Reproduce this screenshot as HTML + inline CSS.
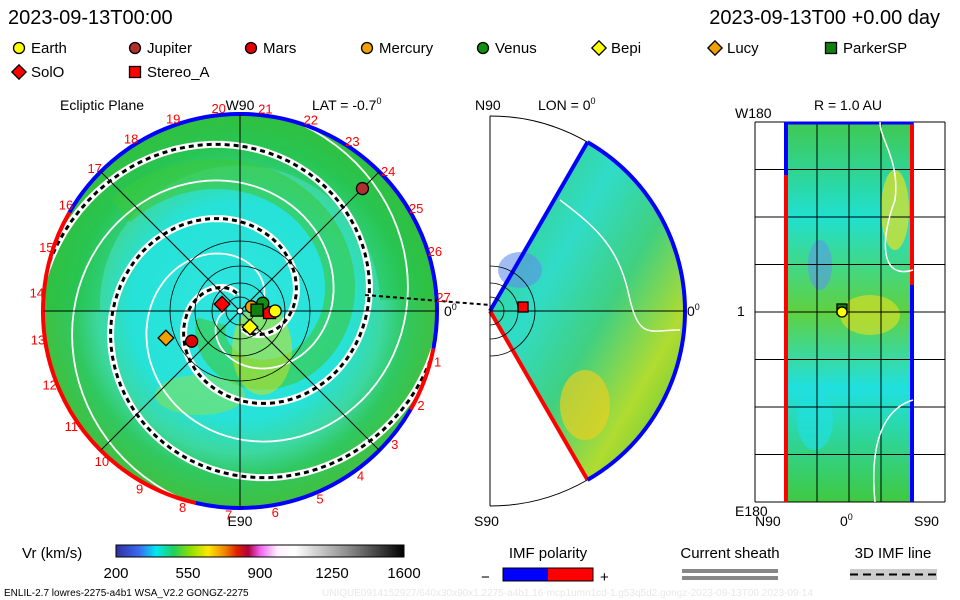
<!DOCTYPE html>
<html><head><meta charset="utf-8"><style>
html,body{margin:0;padding:0;background:#fff;}
svg{display:block;font-family:"Liberation Sans",sans-serif;}
</style></head><body>
<svg id="c" width="960" height="600" viewBox="0 0 960 600">
<defs>
<radialGradient id="gl" cx="50%" cy="50%" r="50%">
<stop offset="0" stop-color="#30e6e0"/><stop offset="0.55" stop-color="#26e2d8"/><stop offset="0.72" stop-color="#3cd8a0"/><stop offset="0.84" stop-color="#30c860"/><stop offset="1" stop-color="#40c040"/>
</radialGradient>
<linearGradient id="cb" x1="0" x2="1">
<stop offset="0" stop-color="#3030a0"/><stop offset="0.08" stop-color="#3a6af0"/><stop offset="0.14" stop-color="#00e8f0"/><stop offset="0.2" stop-color="#20d060"/><stop offset="0.26" stop-color="#90e000"/><stop offset="0.32" stop-color="#ffe800"/><stop offset="0.38" stop-color="#f08000"/><stop offset="0.42" stop-color="#e02000"/><stop offset="0.46" stop-color="#b00040"/><stop offset="0.5" stop-color="#f060f0"/><stop offset="0.56" stop-color="#fff0ff"/><stop offset="0.62" stop-color="#ffffff"/><stop offset="0.8" stop-color="#909090"/><stop offset="1" stop-color="#000"/>
</linearGradient>
<linearGradient id="gm" x1="0" x2="1" y1="0" y2="1">
<stop offset="0" stop-color="#40c858"/><stop offset="0.35" stop-color="#30dcc8"/><stop offset="0.55" stop-color="#40d080"/><stop offset="0.75" stop-color="#b0dc30"/><stop offset="1" stop-color="#40c040"/>
</linearGradient>
<linearGradient id="gr" x1="0" x2="0" y1="0" y2="1">
<stop offset="0" stop-color="#40c850"/><stop offset="0.25" stop-color="#20e0d0"/><stop offset="0.5" stop-color="#60d040"/><stop offset="0.7" stop-color="#20e0e0"/><stop offset="1" stop-color="#40c840"/>
</linearGradient>
<clipPath id="clipL"><circle cx="240" cy="311" r="197"/></clipPath>
</defs>
<text x="8" y="24" font-size="20">2023-09-13T00:00</text>
<text x="940" y="24" font-size="20" text-anchor="end">2023-09-13T00 +0.00 day</text>
<g id="legend"></g>

<g>
<circle cx="240" cy="311" r="197" fill="url(#gl)"/>
<g id="spirals" clip-path="url(#clipL)"></g>
<g id="leftgrid"></g>
<text x="60" y="110" font-size="14">Ecliptic Plane</text>
<text x="240" y="110" font-size="14" text-anchor="middle">W90</text>
<text x="312" y="110" font-size="14">LAT = -0.7<tspan font-size="9" dy="-6">0</tspan></text>
<text x="240" y="526" font-size="14" text-anchor="middle">E90</text>
<text x="444" y="316" font-size="14">0<tspan font-size="9" dy="-6">0</tspan></text>
</g>

<g>
<path id="wedge" fill="url(#gm)"/>
<g id="midgrid"></g>
<text x="475" y="110" font-size="14">N90</text>
<text x="538" y="110" font-size="14">LON = 0<tspan font-size="9" dy="-6">0</tspan></text>
<text x="474" y="526" font-size="14">S90</text>
<text x="687" y="316" font-size="14">0<tspan font-size="9" dy="-6">0</tspan></text>
</g>

<g>
<rect x="785" y="122" width="128" height="380" fill="url(#gr)"/>
<ellipse cx="820" cy="265" rx="12" ry="25" fill="#5a9ae8" opacity="0.6"/>
<ellipse cx="895" cy="210" rx="14" ry="40" fill="#e8e020" opacity="0.7"/>
<ellipse cx="870" cy="315" rx="30" ry="20" fill="#e8e020" opacity="0.6"/>
<ellipse cx="815" cy="420" rx="18" ry="30" fill="#20e0e0" opacity="0.7"/>
<g id="rightgrid"></g>
<text x="848" y="110" font-size="14" text-anchor="middle">R = 1.0 AU</text>
<text x="735" y="118" font-size="14">W180</text>
<text x="735" y="516" font-size="14">E180</text>
<text x="737" y="316" font-size="14">1</text>
<text x="755" y="526" font-size="14">N90</text>
<text x="840" y="526" font-size="14">0<tspan font-size="9" dy="-6">0</tspan></text>
<text x="914" y="526" font-size="14">S90</text>
</g>

<text x="22" y="558" font-size="15">Vr (km/s)</text>
<rect x="116" y="545" width="288" height="12" fill="url(#cb)" stroke="#000"/>
<g id="cbticks"></g>
<text x="548" y="558" font-size="15" text-anchor="middle">IMF polarity</text>
<text x="481" y="582" font-size="15">−</text>
<rect x="503" y="568" width="45" height="13" fill="#0000ff"/>
<rect x="548" y="568" width="45" height="13" fill="#ff0000"/>
<rect x="503" y="568" width="90" height="13" fill="none" stroke="#000"/>
<text x="600" y="582" font-size="15">+</text>
<text x="730" y="558" font-size="15" text-anchor="middle">Current sheath</text>
<rect x="682" y="569" width="96" height="4" fill="#888"/>
<rect x="682" y="576" width="96" height="4" fill="#888"/>
<text x="893" y="558" font-size="15" text-anchor="middle">3D IMF line</text>
<rect x="850" y="569" width="87" height="11" fill="#ccc"/>
<line x1="850" y1="574.5" x2="937" y2="574.5" stroke="#000" stroke-width="2" stroke-dasharray="8,5"/>
<text x="4" y="596" font-size="10">ENLIL-2.7 lowres-2275-a4b1 WSA_V2.2 GONGZ-2275</text>
<text x="322" y="596" font-size="10" fill="#e8e8e8">UNIQUE0914152927/640x30x90x1.2275-a4b1.16-mcp1umn1cd-1.g53q5d2.gongz-2023-09-13T00   2023-09-14</text>
</svg>
<script>
const NS="http://www.w3.org/2000/svg";
function mk(tag,attrs,parent){const e=document.createElementNS(NS,tag);for(const k in attrs)e.setAttribute(k,attrs[k]);parent.appendChild(e);return e;}

const legendNames=["Earth","Jupiter","Mars","Mercury","Venus","Bepi","Lucy","ParkerSP","SolO","Stereo_A"];
const legendColors=["#ffff00","#b03030","#e00000","#f0a000","#109010","#ffff00","#f0a000","#108010","#ff0000","#ff0000"];
const legendShapes=["circle","circle","circle","circle","circle","diamond","diamond","square","diamond","square"];
const legendX=[14,130,246,362,478,594,710,826,14,130];
const legendRow=[0,0,0,0,0,0,0,0,1,1];

function marker(shape,x,y,s,col,parent){
  if(shape==="circle")return mk('circle',{cx:x,cy:y,r:s,fill:col,stroke:'#000','stroke-width':1.3},parent);
  if(shape==="square")return mk('rect',{x:x-s,y:y-s,width:2*s,height:2*s,fill:col,stroke:'#000','stroke-width':1.3},parent);
  return mk('polygon',{points:`${x},${y-s*1.3} ${x+s*1.3},${y} ${x},${y+s*1.3} ${x-s*1.3},${y}`,fill:col,stroke:'#000','stroke-width':1.3},parent);
}
const lg=document.getElementById('legend');
legendNames.forEach((n,i)=>{
  const y=48+legendRow[i]*24;
  const m=marker(legendShapes[i],legendX[i]+5,y,5.5,legendColors[i],lg);
  
  
  const t=mk('text',{x:legendX[i]+17,y:y+5,'font-size':15},lg);t.textContent=n;
  
  
});

const CX=240,CY=311,R=197;
const sp=document.getElementById('spirals');
function spiral(phase,r0,k,tmax){let d="";
  for(let t=0;t<=tmax;t+=4){const r=r0+t*k;const a=(phase+t)*Math.PI/180;
    d+=(t?"L":"M")+(CX+r*Math.cos(a)).toFixed(1)+","+(CY-r*Math.sin(a)).toFixed(1);}return d;}
// outer green cap at top-left
mk('path',{d:'M45,311 A195,195 0 0 1 435,300 L380,300 A140,140 0 0 0 100,311 Z',fill:'#20c040',opacity:0.45},sp);
// green arm
mk('path',{d:spiral(200,30,0.42,300),fill:'none',stroke:'#3cc83a',stroke_width:0,'stroke-width':30,opacity:0.6},sp);
mk('ellipse',{cx:262,cy:350,rx:30,ry:45,fill:'#c8e020',opacity:0.55},sp);
mk('ellipse',{cx:200,cy:395,rx:45,ry:20,fill:'#b0e020',opacity:0.4},sp);
// white lines
[0,90,180,270].forEach(p=>mk('path',{d:spiral(p,15,0.42,470),fill:'none',stroke:'#fff','stroke-width':1.8},sp));
// dashed IMF/sheath spirals
[100,280].forEach(p=>{const d=spiral(p,18,0.42,460);
  mk('path',{d:d,fill:'none',stroke:'#fff','stroke-width':7},sp);
  mk('path',{d:d,fill:'none',stroke:'#000','stroke-width':3,'stroke-dasharray':'5,4'},sp);});
const lgd=document.getElementById('leftgrid');
function arc(cx,cy,r,a0,a1){const p0=[cx+r*Math.cos(a0*Math.PI/180),cy-r*Math.sin(a0*Math.PI/180)],p1=[cx+r*Math.cos(a1*Math.PI/180),cy-r*Math.sin(a1*Math.PI/180)];
  return `M${p0[0]},${p0[1]} A${r},${r} 0 ${Math.abs(a1-a0)>180?1:0} 1 ${p1[0]},${p1[1]}`;}
// boundary polarity segments (clockwise from a0 to a1, degrees)
const bndStart=[150,-11,-30,-103];
const bndEnd=[-11,-30,-103,-210];
const bndCol=['#0000ff','#ff0000','#0000ff','#ff0000'];
bndStart.forEach((a,i)=>mk('path',{d:arc(CX,CY,R,a,bndEnd[i]),fill:'none',stroke:bndCol[i],'stroke-width':4},lgd));
[[CX-R,CY,CX+R,CY],[CX,CY-R,CX,CY+R]].forEach(l=>mk('line',{x1:l[0],y1:l[1],x2:l[2],y2:l[3],stroke:'#000'},lgd));
const dg=R*Math.SQRT1_2;
mk('line',{x1:CX-dg,y1:CY-dg,x2:CX+dg,y2:CY+dg,stroke:'#000'},lgd);
mk('line',{x1:CX-dg,y1:CY+dg,x2:CX+dg,y2:CY-dg,stroke:'#000'},lgd);
[14,28,45,70].forEach(r=>mk('circle',{cx:CX,cy:CY,r:r,fill:'none',stroke:'#000','stroke-width':0.8},lgd));
mk('line',{x1:365,y1:295,x2:490,y2:305,stroke:'#000','stroke-width':2,'stroke-dasharray':'4,3'},lgd);
for(let n=1;n<=27;n++){
  const a=(4+(27-n)*13.14)*Math.PI/180;
  const t=mk('text',{x:(CX+204*Math.cos(a)).toFixed(1),y:(CY-204*Math.sin(a)+5).toFixed(1),'font-size':13,fill:'#ff0000','text-anchor':'middle'},lgd);
  t.textContent=n;
  
  
}
// bodies in ecliptic: longitude (deg) and radius (AU); drawn in this order
const bodyNames=["Stereo_A","Jupiter","Mars","Lucy","SolO","Bepi","Mercury","Venus","ParkerSP","Earth"];
const bodyLon=[-3,45,-148,-160,159,-58,20,19,3,0];
const bodyRad=[0.8,4.68,1.54,2.13,0.52,0.51,0.33,0.65,0.46,0.95];
const AU=37;
bodyNames.forEach((n,i)=>{
  const li=legendNames.indexOf(n);
  const a=bodyLon[i]*Math.PI/180,r=Math.min(bodyRad[i]*AU,190);
  const m=marker(legendShapes[li],CX+r*Math.cos(a),CY-r*Math.sin(a),6,legendColors[li],lgd);
  
  
});
mk('circle',{cx:CX,cy:CY,r:3,fill:'#fff',stroke:'#000'},lgd);

const MX=490,MY=311,MR=195;
const w=document.getElementById('wedge');
const wp=(a)=>[MX+MR*Math.cos(a*Math.PI/180),MY-MR*Math.sin(a*Math.PI/180)];
const t0=wp(60),t1=wp(-60);
w.setAttribute('d',`M${MX},${MY} L${t0[0]},${t0[1]} A${MR},${MR} 0 0 1 ${t1[0]},${t1[1]} Z`);


const mg=document.getElementById('midgrid');
mk('ellipse',{cx:585,cy:405,rx:25,ry:35,fill:'#e8d020',opacity:0.7},mg);
mk('ellipse',{cx:520,cy:270,rx:22,ry:18,fill:'#6090e8',opacity:0.6},mg);
mk('path',{d:`M${MX},${MY} L${t0[0]},${t0[1]}`,stroke:'#0000ff','stroke-width':4},mg);
mk('path',{d:`M${MX},${MY} L${t1[0]},${t1[1]}`,stroke:'#ff0000','stroke-width':4},mg);
mk('path',{d:arc(MX,MY,MR,60,-60),fill:'none',stroke:'#0000ff','stroke-width':4},mg);
mk('path',{d:arc(MX,MY,MR,90,60),fill:'none',stroke:'#000'},mg);
mk('path',{d:arc(MX,MY,MR,-60,-90),fill:'none',stroke:'#000'},mg);
mk('line',{x1:MX,y1:MY-MR,x2:MX,y2:MY+MR,stroke:'#000'},mg);
mk('line',{x1:MX,y1:MY,x2:MX+MR,y2:MY,stroke:'#000'},mg);
[14,28,45].forEach(r=>mk('path',{d:arc(MX,MY,r,90,-90),fill:'none',stroke:'#000','stroke-width':0.8},mg));
mk('path',{d:'M560,200 C600,230 620,250 630,300 C640,340 650,330 680,330',fill:'none',stroke:'#fff','stroke-width':1.5},mg);
const sq=marker('square',523,307,5,'#ff0000',mg);



const rg=document.getElementById('rightgrid');
for(let i=0;i<=8;i++){const y=122+i*47.5;mk('line',{x1:755,y1:y,x2:945,y2:y,stroke:'#000'},rg);}
[785,817,849,881,913].forEach(x=>mk('line',{x1:x,y1:122,x2:x,y2:502,stroke:'#000'},rg));
mk('line',{x1:755,y1:122,x2:755,y2:502,stroke:'#000'},rg);
mk('line',{x1:945,y1:122,x2:945,y2:502,stroke:'#000'},rg);
mk('line',{x1:786,y1:122,x2:786,y2:175,stroke:'#0000ff','stroke-width':4},rg);
mk('line',{x1:786,y1:175,x2:786,y2:502,stroke:'#ff0000','stroke-width':4},rg);
mk('line',{x1:912,y1:122,x2:912,y2:285,stroke:'#ff0000','stroke-width':4},rg);
mk('line',{x1:912,y1:285,x2:912,y2:502,stroke:'#0000ff','stroke-width':4},rg);
mk('line',{x1:785,y1:123,x2:913,y2:123,stroke:'#0000ff','stroke-width':3},rg);
mk('path',{d:'M913,270 C880,280 880,240 895,200 C900,160 880,140 880,122',fill:'none',stroke:'#fff','stroke-width':1.5},rg);
mk('path',{d:'M913,400 C880,410 870,450 875,502',fill:'none',stroke:'#fff','stroke-width':1.5},rg);
const e1=marker('square',842,309,5,'#108010',rg);
const e2=marker('circle',842,312,5,'#ffff00',rg);

const cbTicks=[200,550,900,1250,1600];
const cbMin=200,cbMax=1600;
const ct=document.getElementById('cbticks');
cbTicks.forEach(v=>{
  const x=116+(v-cbMin)/(cbMax-cbMin)*288;
  const t=mk('text',{x:x,y:578,'font-size':15,'text-anchor':'middle'},ct);t.textContent=v;
  
  
});
</script>
</body></html>
